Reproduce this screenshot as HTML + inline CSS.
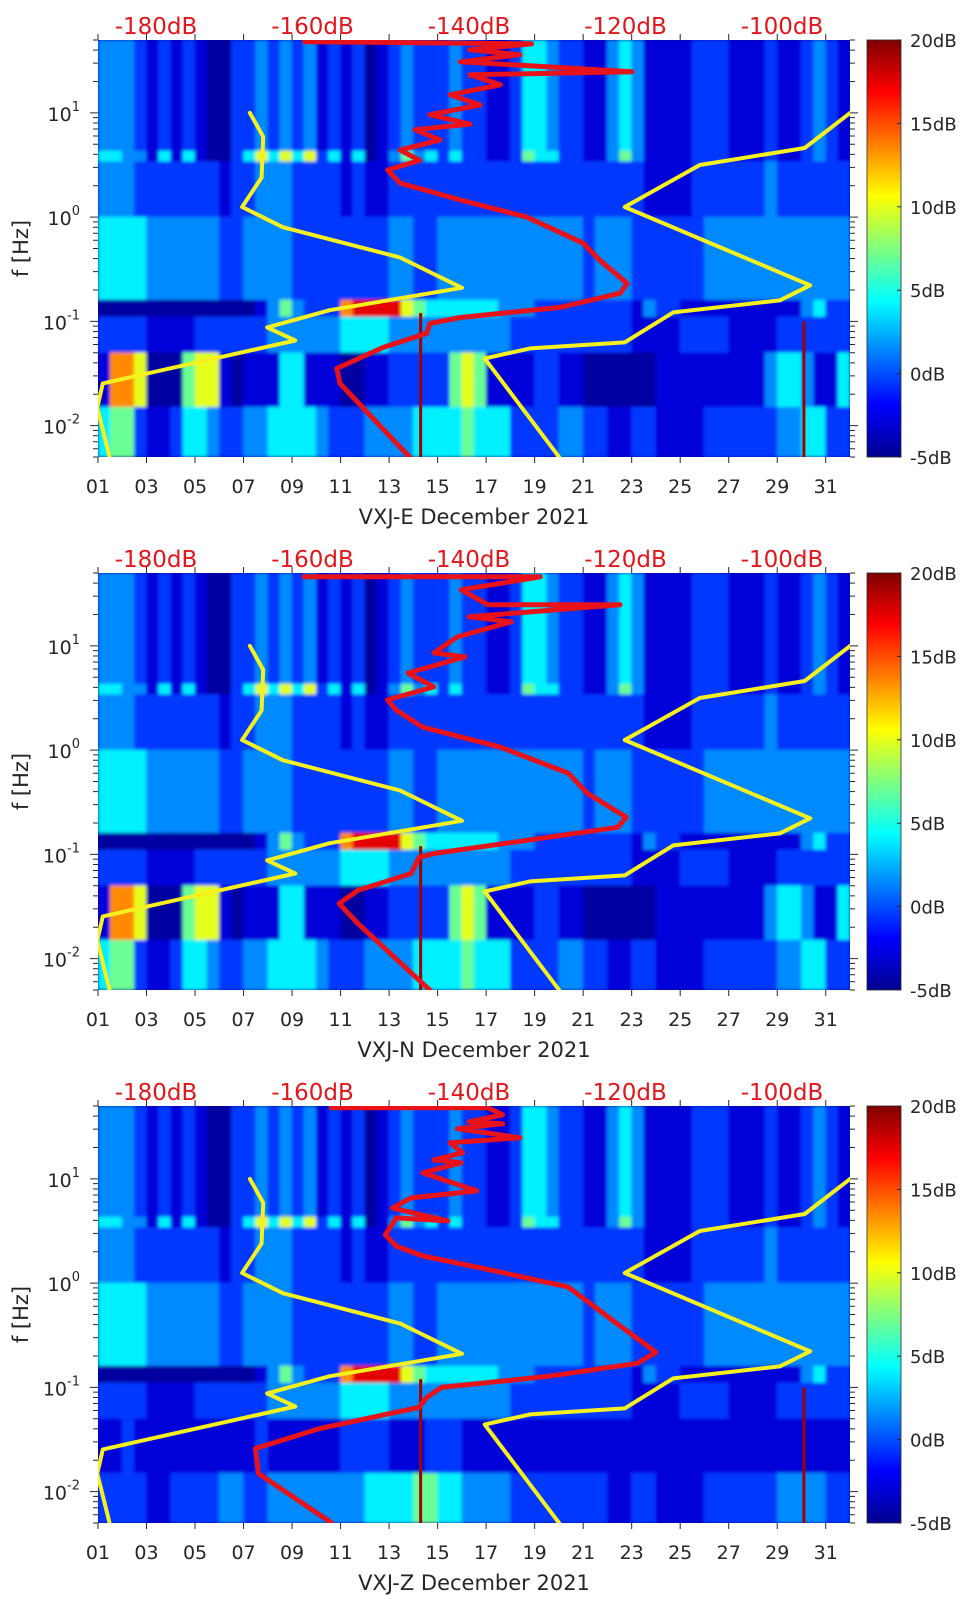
<!DOCTYPE html>
<html><head><meta charset="utf-8"><style>
html,body{margin:0;padding:0;background:#fff;}
svg{display:block;font-family:"DejaVu Sans","Liberation Sans",sans-serif;}
</style></head><body>
<svg id="fig" width="962" height="1599" viewBox="0 0 962 1599" xmlns="http://www.w3.org/2000/svg">
<defs>
<linearGradient id="jet" x1="0" y1="1" x2="0" y2="0">
<stop offset="0" stop-color="#00008f"/><stop offset="0.125" stop-color="#0000ff"/>
<stop offset="0.375" stop-color="#00ffff"/><stop offset="0.625" stop-color="#ffff00"/>
<stop offset="0.875" stop-color="#ff0000"/><stop offset="1" stop-color="#800000"/>
</linearGradient>
<filter id="soft" x="-2%" y="-2%" width="104%" height="104%"><feGaussianBlur stdDeviation="1.5"/></filter>
</defs>
</svg>
<script>
// ---- data ----
const panelNames = ["VXJ-E December 2021","VXJ-N December 2021","VXJ-Z December 2021"];
const bandEdgesHz = [50, 4.3, 3.4, 1.0, 0.16, 0.11, 0.05, 0.015, 0.005];
const levelDb = [-4.8, -4.2, -2.8, -0.5, 1.5, 4.0, 7.0, 10.0, 13.5, 17.5];
const dayTicks = [1,3,5,7,9,11,13,15,17,19,21,23,25,27,29,31];
const dbTicks = [-180,-160,-140,-120,-100];
const cbTicks = [20,15,10,5,0,-5];
const yTicksExp = [1,0,-1,-2];
// heat rows, one char per half-day (62 columns)
const rowsE = [
"44432323211334343423231234333433223554332245422223332223223432",
"55442525211357575735251246453533223655332246422223332223223432",
"44433333332334443333232233333333333333333333322223333334333333",
"55554444443344443333333344334444444444443444333333444444444444",
"11111111111112464333899997655555544433333333243322222222224533",
"33332222333333444444555544444444443333333333222233332222333333",
"28871116772122255222112233333676222233221111112222222224554225",
"56632235543344555543334444555565553333443322332222333333445533"];
const rowsN = [
"44432323211334343423231234333433223554332245422223332223223432",
"55442525211357575735251246453533223655332246422223332223223432",
"44433333332334443333232233333333333333333333322223333334333333",
"55554444443344443333333344334444444444443444333333444444444444",
"11111111111112464333899997655555544433333333243322222222224533",
"33332222333333444444555544444444443333333333222233332222333333",
"28871116772122255222112233333676222233221111112222222224554225",
"56632235543344555543334444555565553333443322332222333333445533"];
const rowsZ = [
"44432323211334343423231234333433223554332245422223332223223432",
"55442525211357575735251246453533223655332246422223332223223432",
"44433333332334443333232233333333333333333333322223333334333333",
"55554444443344443333333344334444444444443444333333444444444444",
"11111111111112464333899997655555544433333333243322222222224533",
"33332222333333444444555544444444443333333333222233332222333333",
"22322222222223222222333322233322222222222222222222222222222222",
"33332233334433444444445555665544443333333322332222333333444433"];
const spikeDays = [14.3, 30.1];
const spikeTopHz = [0.12, 0.1];
// Peterson noise models (dB, Hz)
const nlnmDb = [-168.0,-166.3,-166.5,-169.0,-163.8,-148.8,-140.9,-157.8,-165.8,-162.2,-186.8,-187.5,-185.9];
const nlnmHz = [10,5.9,2.4,1.25,0.80,0.41,0.21,0.128,0.0875,0.0656,0.0254,0.0149,0.0049];
const nhnmDb = [-91.3,-97.1,-110.5,-120.1,-96.4,-100.3,-113.9,-120.1,-132.2,-138.0,-128.4];
const nhnmHz = [10,4.6,3.16,1.25,0.222,0.159,0.122,0.0628,0.055,0.044,0.0049];
// median PSD per station (dB, Hz)
const psdEdb = [-161.0,-132.0,-139.9,-133.5,-141.1,-119.2,-139.9,-136.0,-142.4,-138.6,-145.0,-139.9,-146.9,-143.7,-148.8,-146.3,-150.4,-148.8,-141.1,-132.6,-125.4,-123.3,-119.8,-120.7,-128.4,-141.1,-145.0,-145.4,-151.0,-156.9,-156.5,-147.5];
const psdEhz = [48.2,46.0,40.4,36.1,30.9,24.8,23.2,18.6,14.9,11.9,9.6,7.8,6.9,5.5,4.4,3.5,2.83,2.12,1.46,1.0,0.562,0.386,0.232,0.186,0.136,0.109,0.0957,0.0767,0.0562,0.0353,0.0254,0.0049];
const psdNdb = [-161.1,-130.9,-141.0,-137.6,-120.7,-140.0,-134.6,-141.5,-144.5,-140.5,-147.8,-144.5,-150.4,-149.3,-145.9,-136.0,-127.3,-124.9,-119.9,-121.0,-129.8,-144.5,-146.4,-147.4,-154.2,-156.6,-154.2,-144.9];
const psdNhz = [46.0,46.0,34.5,24.8,24.8,19.0,17.0,12.2,8.57,7.84,5.49,4.04,3.03,2.42,1.66,1.07,0.601,0.386,0.227,0.182,0.146,0.102,0.0936,0.0656,0.0451,0.0338,0.0217,0.0049];
const psdZdb = [-157.6,-137.6,-135.7,-140.0,-135.7,-141.5,-133.5,-142.4,-140.8,-144.5,-141.0,-145.9,-139.0,-147.4,-149.8,-142.7,-149.3,-150.7,-149.3,-145.9,-137.1,-127.3,-121.5,-116.1,-118.5,-129.8,-143.5,-145.4,-146.4,-159.0,-167.3,-166.9,-157.6];
const psdZhz = [48.2,48.2,41.2,35.3,33.8,30.3,24.8,22.2,17.8,15.2,14.3,11.4,7.67,6.57,5.26,3.95,4.22,2.90,2.27,1.82,1.33,0.916,0.431,0.217,0.170,0.128,0.100,0.0802,0.0642,0.0404,0.0259,0.0149,0.00503];

// ---- drawing ----
const NS="http://www.w3.org/2000/svg";
const svg=document.getElementById('fig');
const L=98,R=850,H=417,CBX=867,CBW=34;
const tops=[40,573,1106];
function mk(tag,attrs,parent){const e=document.createElementNS(NS,tag);for(const k in attrs)e.setAttribute(k,attrs[k]);(parent||svg).appendChild(e);return e;}
function xDay(d){return L+(d-1)*(R-L)/31;}
function yHz(top,f){return top+(Math.log10(50)-Math.log10(f))/4*H;}
function xDb(db){return 156+(db+180)*7.825;}
function clamp(v){return Math.max(0,Math.min(1,v));}
function jet(v){const r=clamp(1.5-Math.abs(4*v-3)),g=clamp(1.5-Math.abs(4*v-2)),b=clamp(1.5-Math.abs(4*v-1));
return 'rgb('+Math.round(r*255)+','+Math.round(g*255)+','+Math.round(b*255)+')';}
function dbColor(db){return jet((db+5)/25);}

const allRows=[rowsE,rowsN,rowsZ];
const allPsd=[[psdEdb,psdEhz],[psdNdb,psdNhz],[psdZdb,psdZhz]];

for(let p=0;p<3;p++){
  const top=tops[p],bot=top+H;
  const g=mk('g',{});
  
  
  const clipId='clip'+p;
  const cp=mk('clipPath',{id:clipId},g);mk('rect',{x:L,y:top,width:R-L,height:H},cp);
  const plot=mk('g',{'clip-path':'url(#'+clipId+')'},g);
  
  
  mk('rect',{x:L,y:top,width:R-L,height:H,fill:dbColor(-4.5)},plot);
  const heat=mk('g',{filter:'url(#soft)'},plot);
  const rows=allRows[p];
  for(let r=0;r<rows.length;r++){
    const y0=yHz(top,bandEdgesHz[r]),y1=yHz(top,bandEdgesHz[r+1]);
    for(let c=0;c<62;c++){
      const lv=+rows[r][c];
      const cell=mk('rect',{x:xDay(1+c/2)-0.3,y:y0-0.3,width:(R-L)/62+0.6,height:y1-y0+0.6,fill:dbColor(levelDb[lv])},heat);
      
      
    }
  }
  for(let s=0;s<spikeDays.length;s++){
    if(p===1&&s===1)continue;
    const sp=mk('rect',{x:xDay(spikeDays[s])-1.5,y:yHz(top,spikeTopHz[s]),width:3,height:bot-yHz(top,spikeTopHz[s]),fill:'#a00000'},plot);
    
    
  }
  function line(dbs,hzs,color,w,name){
    let d='';for(let i=0;i<dbs.length;i++)d+=(i?'L':'M')+xDb(dbs[i]).toFixed(1)+' '+yHz(top,hzs[i]).toFixed(1);
    const e=mk('path',{d:d,fill:'none',stroke:color,'stroke-width':w,'stroke-linejoin':'round','stroke-linecap':'round'},plot);
    
    
  }
  line(nlnmDb,nlnmHz,'#f5f01e',4,'nlnm-line');
  line(nhnmDb,nhnmHz,'#f5f01e',4,'nhnm-line');
  line(allPsd[p][0],allPsd[p][1],'#e8121a',5,'median-psd-line');
  // axis ticks
  const ax=mk('g',{stroke:'#262626','stroke-width':1},g);
  
  
  for(const d of dayTicks){const x=xDay(d);
    mk('line',{x1:x,y1:bot,x2:x,y2:bot+6},ax);mk('line',{x1:x,y1:top,x2:x,y2:top-6},ax);
    const t=mk('text',{x:x,y:bot+36,'font-size':19,'text-anchor':'middle',fill:'#262626',stroke:'none'},g);
    t.textContent=(d<10?'0':'')+d;
    
    
  }
  for(let e=-3;e<=1;e++)for(let m=1;m<=9;m++){const f=m*Math.pow(10,e);if(f<0.005||f>50)continue;
    const y=yHz(top,f),len=m===1?8:5;
    mk('line',{x1:L-len,y1:y,x2:L,y2:y},ax);mk('line',{x1:R,y1:y,x2:R+len,y2:y},ax);}
  for(const ex of yTicksExp){const y=yHz(top,Math.pow(10,ex));
    const t=mk('text',{x:80,y:y+8,'font-size':19,'text-anchor':'end',fill:'#262626'},g);
    
    
    const a=mk('tspan',{},t);a.textContent='10';
    const b=mk('tspan',{dy:-10,'font-size':13},t);b.textContent=String(ex);
  }
  for(const db of dbTicks){
    const t=mk('text',{x:xDb(db),y:top-6,'font-size':23,'text-anchor':'middle',fill:'#e3161b'},g);
    t.textContent=db+'dB';
    
    
  }
  const xl=mk('text',{x:(L+R)/2,y:bot+67,'font-size':21,'text-anchor':'middle',fill:'#262626'},g);
  xl.textContent=panelNames[p];
  
  
  const yl=mk('text',{x:21,y:top+H/2,'font-size':21,'text-anchor':'middle','dominant-baseline':'central',fill:'#262626',transform:'rotate(-90 21 '+(top+H/2)+')'},g);
  yl.textContent='f [Hz]';
  
  
  // colorbar
  const cb=mk('rect',{x:CBX,y:top,width:CBW,height:H,fill:'url(#jet)',stroke:'#262626','stroke-width':0.8},g);
  
  
  for(const v of cbTicks){const y=top+(20-v)/25*H;
    mk('line',{x1:CBX+CBW-4,y1:y,x2:CBX+CBW,y2:y,stroke:'#262626'},g);
    const t=mk('text',{x:910,y:y+7,'font-size':18,fill:'#262626'},g);
    t.textContent=v+'dB';
    
    
  }
}
</script>
</body></html>
